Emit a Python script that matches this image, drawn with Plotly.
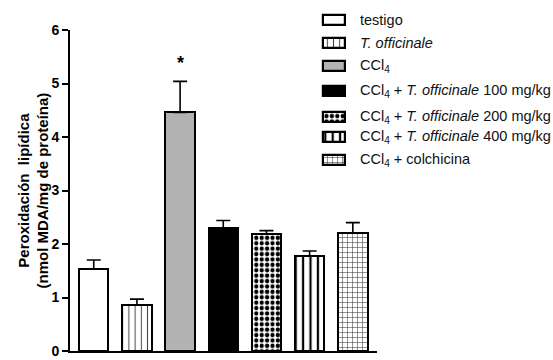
import plotly.graph_objects as go

# ---- data -------------------------------------------------------------
groups = [
    "testigo",
    "T. officinale",
    "CCl4",
    "CCl4 + T. officinale 100 mg/kg",
    "CCl4 + T. officinale 200 mg/kg",
    "CCl4 + T. officinale 400 mg/kg",
    "CCl4 + colchicina",
]
legend_labels = [
    "testigo",
    "<i>T. officinale</i>",
    "CCl<sub>4</sub>",
    "CCl<sub>4</sub> + <i>T. officinale</i> 100 mg/kg",
    "CCl<sub>4</sub> + <i>T. officinale</i> 200 mg/kg",
    "CCl<sub>4</sub> + <i>T. officinale</i> 400 mg/kg",
    "CCl<sub>4</sub> + colchicina",
]
means = [1.53, 0.86, 4.46, 2.29, 2.19, 1.78, 2.21]
errors = [0.17, 0.11, 0.58, 0.15, 0.06, 0.09, 0.19]
significant = [False, False, True, False, False, False, False]
y_ticks = [0, 1, 2, 3, 4, 5, 6]

# ---- fill styles (fill colour, pattern shape, pattern colour, size, solidity)
styles = [
    ("white", "", "black", 6, 0.2),
    ("white", "|", "#444444", 6.2, 0.16),
    ("#b3b3b3", "", "black", 6, 0.2),
    ("black", "", "black", 6, 0.2),
    ("white", ".", "black", 5.4, 0.5),
    ("white", "|", "black", 7.4, 0.3),
    ("white", "+", "#333333", 5, 0.2),
]

FONT = "Liberation Sans, Arial, sans-serif"
W, H = 553, 360
ML, MR, MT, MB = 70, 0, 0, 9
PLOT_RIGHT_PX = 377          # right end of the bar axis
PLOT_TOP_PX = 30             # y position of the top tick

area_w = W - ML - MR
area_h = H - MT - MB
y_dom_top = (H - MB - PLOT_TOP_PX) / area_h

fig = go.Figure()

# ---- bars with upper error bars ---------------------------------------
for i, g in enumerate(groups):
    fill, shape, fg, size, sol = styles[i]
    fig.add_trace(go.Bar(
        x=[g], y=[means[i]],
        width=0.68,
        marker=dict(
            color=fill,
            line=dict(color="black", width=2),
            pattern=dict(shape=shape, fgcolor=fg, bgcolor=fill,
                         size=size, solidity=sol, fillmode="replace"),
        ),
        error_y=dict(type="data", symmetric=False, array=[errors[i]],
                     arrayminus=[0], color="black", thickness=1.6, width=7),
        showlegend=False, xaxis="x", yaxis="y",
    ))

# significance marker
for i, g in enumerate(groups):
    if significant[i]:
        fig.add_annotation(x=g, y=means[i] + errors[i], xref="x", yref="y",
                           text="<b>*</b>", showarrow=False, yanchor="bottom",
                           yshift=6, font=dict(family=FONT, size=18, color="black"))

# ---- hand-built legend on a pixel-scaled overlay axis ------------------
SW_X0, SW_W, SW_H = 323, 22, 10
TXT_X = 358
LEGEND_ROWS_PX = [19.5, 43, 65.5, 91, 116.5, 137, 159.5]
for i, lab in enumerate(legend_labels):
    fill, shape, fg, size, sol = styles[i]
    ry = LEGEND_ROWS_PX[i]
    fig.add_trace(go.Bar(
        y=[ry], x=[SW_W], base=[SW_X0], orientation="h", width=SW_H,
        marker=dict(
            color=fill,
            line=dict(color="black", width=2.2),
            pattern=dict(shape=shape, fgcolor=fg, bgcolor=fill,
                         size=size, solidity=sol, fillmode="replace"),
        ),
        showlegend=False, xaxis="x2", yaxis="y2", hoverinfo="skip",
    ))
    fig.add_annotation(x=TXT_X, y=ry, xref="x2", yref="y2", text=lab,
                       showarrow=False, xanchor="left", yanchor="middle",
                       font=dict(family=FONT, size=14.5, color="#111111"))

# ---- y axis title -----------------------------------------------------
fig.add_annotation(
    x=(33 - ML) / area_w, y=0.5 * y_dom_top,
    xref="paper", yref="paper", textangle=-90, showarrow=False,
    xanchor="center", yanchor="middle",
    text="<b>Peroxidación  lipídica</b><br><b>(nmol MDA/mg de proteína)</b>",
    font=dict(family=FONT, size=15, color="black"),
)

fig.update_layout(
    width=W, height=H,
    margin=dict(l=ML, r=MR, t=MT, b=MB, pad=0, autoexpand=False),
    paper_bgcolor="white", plot_bgcolor="rgba(0,0,0,0)",
    barmode="overlay", bargap=0,
    xaxis=dict(
        domain=[0, (PLOT_RIGHT_PX - ML) / area_w],
        type="category", categoryorder="array", categoryarray=groups,
        range=[-0.55, 6.56], showline=True, linecolor="black", linewidth=2,
        ticks="", showticklabels=False, showgrid=False, zeroline=False,
        anchor="y", automargin=False,
    ),
    yaxis=dict(
        domain=[0, y_dom_top],
        range=[0, 6], tickvals=y_ticks, ticks="outside", ticklen=6,
        tickwidth=2, tickcolor="black", showline=True, linecolor="black",
        linewidth=2, showgrid=False, zeroline=False,
        tickfont=dict(family=FONT, size=14, color="black", weight="bold"),
        anchor="x", automargin=False,
    ),
    xaxis2=dict(domain=[0, 1], range=[ML, W], visible=False, anchor="y2",
                fixedrange=True, automargin=False),
    yaxis2=dict(domain=[0, 1], range=[H - MB, 0], visible=False, anchor="x2",
                fixedrange=True, automargin=False),
)

fig.write_html("out.html")
